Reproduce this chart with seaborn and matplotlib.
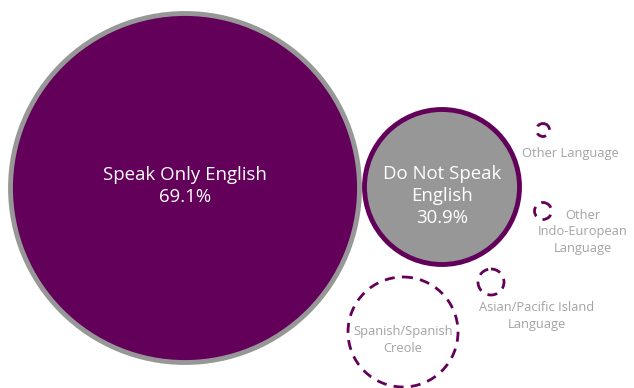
import matplotlib
matplotlib.use("Agg")
import matplotlib.pyplot as plt
from matplotlib.patches import Circle
import seaborn as sns

sns.set_theme(style="white")
plt.rcParams['font.family'] = ['Open Sans', 'DejaVu Sans']

# Main categories
main_labels = ["Speak Only English", "Do Not Speak\nEnglish"]
main_share = [69.1, 30.9]
main_radius = [177, 80]

# Sub categories of "Do Not Speak English"
sub_labels = ["Spanish/Spanish\nCreole", "Asian/Pacific Island\nLanguage",
              "Other\nIndo-European\nLanguage", "Other Language"]
sub_radius = [55, 13, 8.5, 6.5]

PURPLE = "#63005a"
GRAY = "#979797"
LABEL_GRAY = "#a3a3a3"

fig = plt.figure(figsize=(6.34, 3.88), dpi=100)
ax = fig.add_axes([0, 0, 1, 1])
ax.set_xlim(0, 634)
ax.set_ylim(388, 0)
ax.set_aspect("equal")
ax.axis("off")

main_centers = [(185, 188), (442, 187)]
main_text_y = [186, 196]
main_face = [PURPLE, GRAY]
main_edge = [GRAY, PURPLE]
for (cx, cy), r, fc, ec, lab, sh, ty in zip(main_centers, main_radius, main_face,
                                            main_edge, main_labels, main_share,
                                            main_text_y):
    ax.add_patch(Circle((cx, cy), r - 2.5, facecolor=fc, edgecolor=ec, lw=3.5))
    ax.text(cx, ty, f"{lab}\n{sh}%", ha="center", va="center",
            color="white", fontsize=13.4, linespacing=1.3)

sub_centers = [(403, 332), (491, 282), (543, 211), (543, 130)]
sub_text_pos = [(403, 340), (537, 316), (583, 232), (570, 153)]
for (cx, cy), r, lab, (tx, ty) in zip(sub_centers, sub_radius, sub_labels, sub_text_pos):
    ax.add_patch(Circle((cx, cy), r, facecolor="none", edgecolor=PURPLE,
                        lw=2, linestyle=(0, (3.6, 2.6))))
    ax.text(tx, ty, lab, ha="center", va="center", color=LABEL_GRAY,
            fontsize=9.3, linespacing=1.32)

fig.savefig("out.png", dpi=100)
